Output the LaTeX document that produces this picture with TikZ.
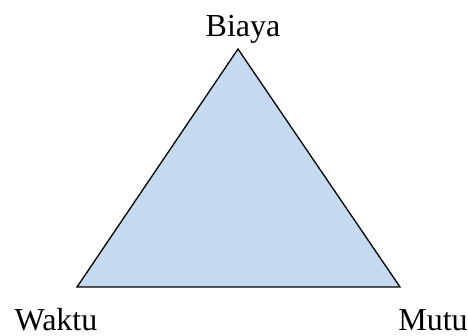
\documentclass[tikz,border=0pt]{standalone}
\usepackage{fontspec}
\setmainfont{Liberation Serif}
\usetikzlibrary{positioning}

\begin{document}
\begin{tikzpicture}[
  x=1pt, y=1pt,
  corner/.style={font=\fontsize{32}{36}\selectfont, anchor=base, inner sep=0pt, text depth=0pt},
  tri/.style={draw=black, line width=1.3pt, fill={rgb,255:red,197;green,217;blue,241}, line join=miter},
]
\useasboundingbox (0,0) rectangle (468,336);

% === SEGITIGA PROYEK ===
\coordinate (top) at (238, 287);
\coordinate (left) at (77, 49);
\coordinate (right) at (400, 49);

\draw[tri] (top) -- (left) -- (right) -- cycle;

\node[corner] (biaya) at (243, 299) {Biaya};
\node[corner] (waktu) at (56, 5.5) {Waktu};
\node[corner] (mutu) at (433, 5.5) {Mutu};
\end{tikzpicture}
\end{document}
